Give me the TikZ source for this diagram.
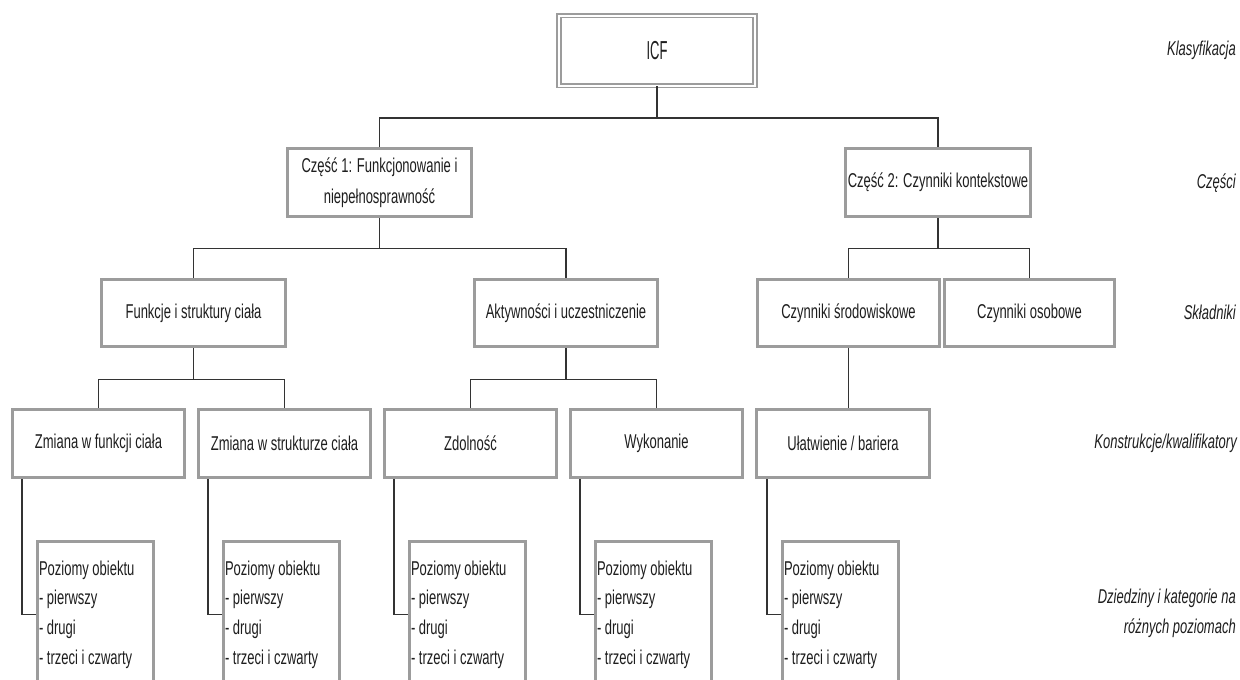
\documentclass[tikz,border=0pt]{standalone}
\usepackage{fontspec}
\setmainfont{Liberation Sans}[FakeStretch=0.65]
\newfontfamily\titlefont{Liberation Sans}[FakeStretch=0.5]
\definecolor{boxgray}{HTML}{9C9C9C}
\definecolor{linegray}{HTML}{333333}
\definecolor{txt}{HTML}{1E1E1E}
\begin{document}
\begin{tikzpicture}[x=1pt,y=-1pt,
  box/.style={draw=boxgray, line width=3pt, fill=white, align=center, inner sep=0pt,
    text=txt, font=\fontsize{20}{31}\selectfont,
    execute at begin node={\spaceskip=0pt\xspaceskip=0pt}},
  topbox/.style={box, line width=1.8pt, double=white, double distance=2pt,
    font=\titlefont\fontsize{26}{26}\selectfont},
  wide/.style={minimum width=#1, minimum height=68},
  leaf/.style={draw=boxgray, line width=3pt, fill=white, anchor=north west,
    minimum width=116, minimum height=147, text width=112, inner xsep=2pt, inner ysep=0pt,
    align=left, text=txt, font=\fontsize{20}{29.7}\selectfont,
    execute at begin node={\spaceskip=0pt\xspaceskip=0pt}},
  conn/.style={draw=linegray, line width=1.5pt},
  lbl/.style={anchor=east, align=right, text=txt, inner sep=0pt,
    font=\fontsize{20}{30}\selectfont\itshape,
    execute at begin node={\spaceskip=0pt\xspaceskip=0pt}}]
\clip (0,0) rectangle (1240,680);
\fill[white] (0,0) rectangle (1240,680);

% classification
\node[topbox, minimum width=196, minimum height=70] (icf) at (657,50.5) {ICF};

% parts
\node[box, wide=184] (p1) at (379.5,182.5) {Część 1: Funkcjonowanie i\\niepełnosprawność};
\node[box, wide=185] (p2) at (938,182.5) {Część 2: Czynniki kontekstowe};

% components
\node[box, wide=184, minimum height=67] (fb) at (193.5,313) {Funkcje i struktury ciała};
\node[box, wide=183, minimum height=67] (ak) at (566,313) {Aktywności i uczestniczenie};
\node[box, wide=182, minimum height=67] (cs) at (848.5,313) {Czynniki środowiskowe};
\node[box, wide=170, minimum height=67] (co) at (1029.5,313) {Czynniki osobowe};

% constructs / qualifiers
\node[box, wide=172] (zf) at (98.5,443.5) {Zmiana w funkcji ciała};
\node[box, wide=172] (zs) at (284.5,443.5) {Zmiana w strukturze ciała};
\node[box, wide=172] (zd) at (470.5,443.5) {Zdolność};
\node[box, wide=172] (wy) at (656.5,443.5) {Wykonanie};
\node[box, wide=173] (ul) at (843,443.5) {Ułatwienie / bariera};

% domains and categories
\node[leaf] (b1) at (35.5,539.5) {Poziomy obiektu\\- pierwszy\\- drugi\\- trzeci i czwarty};
\node[leaf] (b2) at (221.5,539.5) {Poziomy obiektu\\- pierwszy\\- drugi\\- trzeci i czwarty};
\node[leaf] (b3) at (407.5,539.5) {Poziomy obiektu\\- pierwszy\\- drugi\\- trzeci i czwarty};
\node[leaf] (b4) at (593.5,539.5) {Poziomy obiektu\\- pierwszy\\- drugi\\- trzeci i czwarty};
\node[leaf] (b5) at (780.5,539.5) {Poziomy obiektu\\- pierwszy\\- drugi\\- trzeci i czwarty};

% tree connectors
\draw[conn] (icf.south) -- ++(0,31.5) -| (p1.north);
\draw[conn] (icf.south) -- ++(0,31.5) -| (p2.north);
\draw[conn] (p1.south) -- ++(0,30.5) -| (fb.north);
\draw[conn] (p1.south) -- ++(0,30.5) -| (ak.north);
\draw[conn] (p2.south) -- ++(0,30.5) -| (cs.north);
\draw[conn] (p2.south) -- ++(0,30.5) -| (co.north);
\draw[conn] (fb.south) -- ++(0,31.5) -| (zf.north);
\draw[conn] (fb.south) -- ++(0,31.5) -| (zs.north);
\draw[conn] (ak.south) -- ++(0,31.5) -| (zd.north);
\draw[conn] (ak.south) -- ++(0,31.5) -| (wy.north);
\draw[conn] (cs.south) -- (cs.south |- ul.north);
\draw[conn] ([xshift=11]zf.south west) |- (b1.west);
\draw[conn] ([xshift=11]zs.south west) |- (b2.west);
\draw[conn] ([xshift=11]zd.south west) |- (b3.west);
\draw[conn] ([xshift=11]wy.south west) |- (b4.west);
\draw[conn] ([xshift=12]ul.south west) |- (b5.west);

% level labels
\node[lbl] (l1) at (1236,50) {Klasyfikacja};
\node[lbl] (l2) at (1236,183) {Części};
\node[lbl] (l3) at (1236,312) {Składniki};
\node[lbl] (l4) at (1237,443) {Konstrukcje/kwalifikatory};
\node[lbl] (l5) at (1236,613) {Dziedziny i kategorie na\\różnych poziomach};
\end{tikzpicture}
\end{document}
